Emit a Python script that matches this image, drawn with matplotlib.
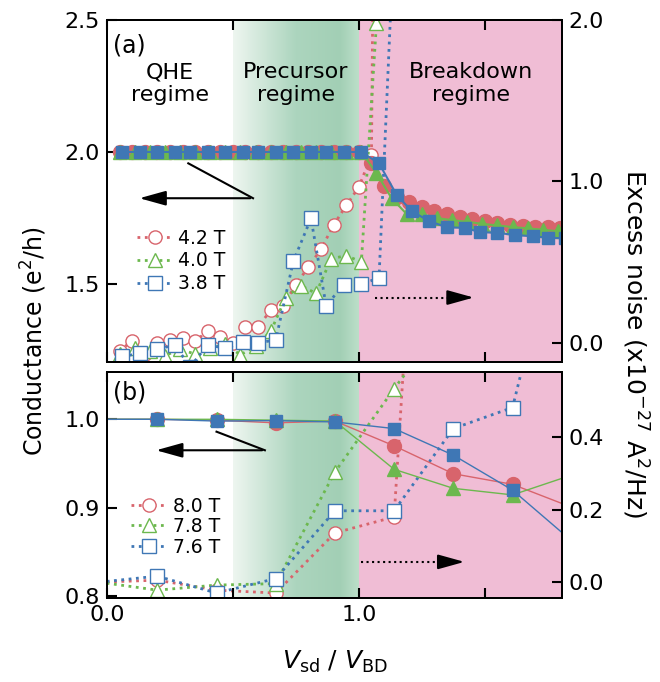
import numpy as np
import matplotlib.pyplot as plt
from matplotlib.colors import LinearSegmentedColormap

plt.rcParams['font.family'] = ['DejaVu Sans']
plt.rcParams['mathtext.fontset'] = 'dejavusans'

# ---- panel (a) data ----
# conductance (e^2/h), filled markers
x42 = [0.05, 0.10, 0.15, 0.20, 0.25, 0.30, 0.35, 0.40, 0.45, 0.50, 0.55, 0.60,
       0.65, 0.70, 0.75, 0.80, 0.85, 0.90, 0.95, 1.00, 1.05, 1.10, 1.15, 1.20,
       1.25, 1.30, 1.35, 1.40, 1.45, 1.50, 1.55, 1.60, 1.65, 1.70, 1.75, 1.80]
g42 = [2.00, 2.00, 2.00, 2.00, 2.00, 2.00, 2.00, 2.00, 2.00, 2.00, 2.00, 2.00,
       2.00, 2.00, 2.00, 2.00, 2.00, 2.00, 2.00, 2.00, 1.96, 1.87, 1.83, 1.81,
       1.79, 1.775, 1.765, 1.755, 1.745, 1.74, 1.73, 1.725, 1.72, 1.718, 1.715, 1.712]
x40 = [0.05, 0.11, 0.17, 0.23, 0.29, 0.35, 0.41, 0.47, 0.53, 0.59, 0.65, 0.71,
       0.77, 0.83, 0.89, 0.95, 1.01, 1.07, 1.13, 1.19, 1.25, 1.31, 1.37, 1.43,
       1.49, 1.55, 1.61, 1.67, 1.73, 1.79]
g40 = [2.00, 2.00, 2.00, 2.00, 2.00, 2.00, 2.00, 2.00, 2.00, 2.00, 2.00, 2.00,
       2.00, 2.00, 2.00, 2.00, 2.00, 1.92, 1.825, 1.765, 1.765, 1.75, 1.742, 1.736,
       1.728, 1.722, 1.716, 1.711, 1.706, 1.70]
x38 = [0.06, 0.13, 0.20, 0.27, 0.33, 0.40, 0.47, 0.54, 0.60, 0.67, 0.74, 0.81,
       0.87, 0.94, 1.01, 1.08, 1.15, 1.21, 1.28, 1.35, 1.42, 1.48, 1.55, 1.62,
       1.69, 1.75, 1.82]
g38 = [2.00, 2.00, 2.00, 2.00, 2.00, 2.00, 2.00, 2.00, 2.00, 2.00, 2.00, 2.00,
       2.00, 2.00, 2.00, 1.957, 1.838, 1.776, 1.738, 1.715, 1.713, 1.697, 1.694, 1.686,
       1.681, 1.676, 1.673]
# excess noise (1e-27 A^2/Hz), open markers
nx42 = [0.05, 0.10, 0.15, 0.20, 0.25, 0.30, 0.35, 0.40, 0.45, 0.50, 0.55, 0.60,
        0.65, 0.70, 0.75, 0.80, 0.85, 0.90, 0.95, 1.00, 1.05, 1.10]
n42 = [-0.05, 0.012, -0.07, 0.0, 0.017, 0.03, 0.012, 0.07, 0.033, 0.0, 0.095, 0.10,
       0.20, 0.23, 0.36, 0.47, 0.58, 0.73, 0.85, 0.965, 1.16, 10.0]
nx40 = [0.05, 0.11, 0.17, 0.23, 0.29, 0.35, 0.41, 0.47, 0.53, 0.59, 0.65, 0.71,
        0.77, 0.83, 0.89, 0.95, 1.01, 1.07, 1.13]
n40 = [-0.07, -0.03, -0.05, -0.08, -0.04, -0.07, -0.03, -0.01, -0.075, -0.02, 0.07, 0.28,
       0.354, 0.306, 0.52, 0.54, 0.50, 1.98, 6.0]
nx38 = [0.06, 0.13, 0.20, 0.27, 0.33, 0.40, 0.47, 0.54, 0.60, 0.67, 0.74, 0.81,
        0.87, 0.94, 1.01, 1.08, 1.15]
n38 = [-0.085, -0.066, -0.04, -0.014, -0.15, -0.012, -0.035, 0.002, 0.0, 0.017, 0.505, 0.77,
       0.23, 0.36, 0.365, 0.40, 2.9]

# ---- panel (b) data ----
xb = [-0.03, 0.20, 0.435, 0.67, 0.905, 1.14, 1.375, 1.61, 1.845]
g80 = [1.0, 1.0, 0.999, 0.996, 0.998, 0.970, 0.9385, 0.9265, 0.9006]
g78 = [1.0, 1.0, 1.0, 0.999, 0.998, 0.9435, 0.922, 0.9146, 0.937]
g76 = [1.0, 1.0, 0.998, 0.9985, 0.997, 0.9895, 0.9595, 0.920, 0.8626]
nxb = [-0.03, 0.20, 0.435, 0.67, 0.905, 1.14, 1.375, 1.61, 1.845]
n80 = [0.0, 0.0055, -0.022, -0.03, 0.136, 0.18, 2.8]
n78 = [0.0, -0.022, -0.008, -0.004, 0.304, 0.534, 0.75]
n76 = [0.0, 0.0166, -0.03, 0.01, 0.197, 0.197, 0.424, 0.482, 1.14]

labels_a = ['4.2 T', '4.0 T', '3.8 T']
labels_b = ['8.0 T', '7.8 T', '7.6 T']

red = '#d8646c'
green = '#6cb84e'
blue = '#3f77b5'
pink = '#f0bdd5'

grad_cmap = LinearSegmentedColormap.from_list(
    'prec', [(0.0, '#eef6f0'), (0.5, '#acd5be'), (0.85, '#a2cfb5'), (1.0, '#bcdfc9')])

fig = plt.figure(figsize=(6.6, 6.82), dpi=100)
axA = fig.add_axes([0.162, 0.469, 0.689, 0.502])
axB = fig.add_axes([0.162, 0.123, 0.689, 0.331])

arrow_kw = dict(arrowstyle='-|>,head_length=0.9,head_width=0.25', color='k', lw=1.5,
                mutation_scale=18)


def setup(ax, nax):
    # noise axis underneath so filled conductance points sit on top
    ax.set_zorder(nax.get_zorder() + 1)
    ax.patch.set_visible(False)
    grad = np.linspace(0, 1, 256).reshape(1, -1)
    nax.imshow(grad, cmap=grad_cmap, extent=(0.5, 1.0, 0, 1), aspect='auto',
               transform=nax.get_xaxis_transform(), zorder=0)
    nax.axvspan(1.0, 2.0, color=pink, lw=0, zorder=0)
    for a in (ax, nax):
        a.tick_params(direction='in', length=7, width=1.5, labelsize=16, top=True, pad=5)
        for s in a.spines.values():
            s.set_linewidth(1.4)
    ax.set_xlim(0, 1.805)
    ax.set_xticks([0, 0.5, 1.0, 1.5])


sty = dict(ls=':', lw=2, mfc='white', mew=1, ms=9.5)
leg_kw = dict(loc='upper left', frameon=False, fontsize=13.5, handlelength=1.9,
              handletextpad=0.3, borderaxespad=0, borderpad=0)

# ---- (a) ----
nA = axA.twinx()
setup(axA, nA)
nA.plot(nx42, n42, marker='o', color=red, label=labels_a[0], **sty)
nA.plot(nx40, n40, marker='^', color=green, label=labels_a[1], **sty)
nA.plot(nx38, n38, marker='s', color=blue, label=labels_a[2], **sty)
axA.plot(x42, g42, marker='o', color=red, lw=1.5, ms=10)
axA.plot(x40, g40, marker='^', color=green, lw=1.5, ms=10)
axA.plot(x38, g38, marker='s', color=blue, lw=1.5, ms=9)
axA.set_ylim(1.205, 2.5)
axA.set_yticks([1.5, 2.0, 2.5])
nA.set_ylim(-0.12, 2.0)
nA.set_yticks([0.0, 1.0, 2.0])
nA.set_yticklabels(['0.0', '1.0', '2.0'])
axA.set_xticklabels([])
nA.legend(bbox_to_anchor=(0.066, 0.39), labelspacing=0.2, **leg_kw)

axA.text(0.013, 0.925, '(a)', transform=axA.transAxes, fontsize=17, va='center')
for xc, t in [(0.25, 'QHE\nregime'), (0.75, 'Precursor\nregime'), (1.445, 'Breakdown\nregime')]:
    axA.text(xc, 0.813, t, transform=axA.get_xaxis_transform(), ha='center', va='center',
             fontsize=16, linespacing=1.2)

# arrows in (a)
axA.plot([0.323, 0.58], [1.957, 1.825], color='k', lw=1.5)
axA.annotate('', xy=(0.118, 1.825), xytext=(0.58, 1.825), arrowprops=arrow_kw)
nA.plot([1.063, 1.40], [0.28, 0.28], color='k', ls=':', lw=1.5)
nA.annotate('', xy=(1.467, 0.28), xytext=(1.39, 0.28), arrowprops=arrow_kw)

# ---- (b) ----
nB = axB.twinx()
setup(axB, nB)
nB.plot(nxb[:len(n80)], n80, marker='o', color=red, label=labels_b[0], **sty)
nB.plot(nxb[:len(n78)], n78, marker='^', color=green, label=labels_b[1], **sty)
nB.plot(nxb[:len(n76)], n76, marker='s', color=blue, label=labels_b[2], **sty)
axB.plot(xb, g80, marker='o', color=red, lw=1, ms=10)
axB.plot(xb, g78, marker='^', color=green, lw=1, ms=10)
axB.plot(xb, g76, marker='s', color=blue, lw=1, ms=9)
axB.set_ylim(0.798, 1.053)
axB.set_yticks([0.8, 0.9, 1.0])
nB.set_ylim(-0.044, 0.579)
nB.set_yticks([0.0, 0.2, 0.4])
axB.set_xticklabels(['0.0', '', '1.0', ''])
nB.legend(bbox_to_anchor=(0.054, 0.45), labelspacing=0.08, **leg_kw)
axB.text(0.013, 0.91, '(b)', transform=axB.transAxes, fontsize=17, va='center')

axB.plot([0.435, 0.627], [0.986, 0.965], color='k', lw=1.5)
axB.annotate('', xy=(0.184, 0.965), xytext=(0.627, 0.965), arrowprops=arrow_kw)
nB.plot([1.01, 1.37], [0.056, 0.056], color='k', ls=':', lw=1.5)
nB.annotate('', xy=(1.43, 0.056), xytext=(1.36, 0.056), arrowprops=arrow_kw)

fig.text(0.052, 0.50, 'Conductance (e$^{2}$/h)', rotation=90, ha='center', va='center', fontsize=17)
fig.text(0.962, 0.497, 'Excess noise (x10$^{-27}$ A$^{2}$/Hz)', rotation=270,
         ha='center', va='center', fontsize=18)
fig.text(0.507, 0.029, r'$V_{\mathrm{sd}}$ / $V_{\mathrm{BD}}$', ha='center', va='center', fontsize=18)

fig.savefig('out.png', dpi=100)
